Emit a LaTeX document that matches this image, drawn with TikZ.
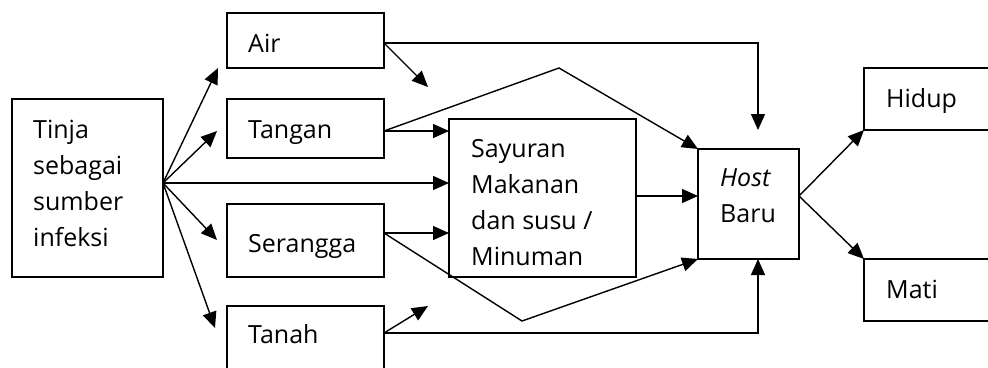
\documentclass[tikz,border=0pt]{standalone}
\usepackage{fontspec}
\setmainfont{Open Sans}
\usetikzlibrary{arrows.meta,calc}
\begin{document}
\begin{tikzpicture}[x=1pt,y=-1pt,
  box/.style={draw, line width=1.5pt, rectangle, inner sep=0pt, outer sep=0pt, anchor=north west},
  txt/.style={anchor=base west, inner sep=0pt, align=left, font=\fontsize{25}{36}\selectfont},
  conn/.style={line width=1.4pt},
  arr/.style={conn, -{Triangle[length=16pt,width=14pt]}},
]
\useasboundingbox (0,0) rectangle (988,367);
\begin{scope}
\clip (0,0) rectangle (988,367);
% boxes
\node[box, minimum width=151pt, minimum height=178pt] (tinja) at (12,99) {};
\node[box, minimum width=157pt, minimum height=55pt] (air) at (227,13) {};
\node[box, minimum width=157pt, minimum height=59pt] (tangan) at (227,99) {};
\node[box, minimum width=157pt, minimum height=73pt] (serangga) at (227,204) {};
\node[box, minimum width=157pt, minimum height=70pt] (tanah) at (227,306) {};
\node[box, minimum width=187pt, minimum height=158pt] (sayuran) at (449,119) {};
\node[box, minimum width=101pt, minimum height=110pt] (host) at (698,149) {};
\node[box, minimum width=140pt, minimum height=62pt] (hidup) at (864,68) {};
\node[box, minimum width=140pt, minimum height=62pt] (mati) at (864,259) {};
% texts (base anchor = baseline of the last line)
\node[txt] (tinjat) at (33,246) {Tinja\\sebagai\\sumber\\infeksi};
\node[txt] (airt) at (248,52) {Air};
\node[txt] (tangant) at (248,138) {Tangan};
\node[txt] (seranggat) at (248,252) {Serangga};
\node[txt] (tanaht) at (248,343) {Tanah};
\node[txt] (sayurant) at (471,265) {Sayuran\\Makanan\\dan susu /\\Minuman};
\node[txt] (hostt) at (720,222) {\textit{Host}\\Baru};
\node[txt] (hidupt) at (886,107) {Hidup};
\node[txt] (matit) at (886,298) {Mati};
% helper coordinates
\coordinate (O) at ([yshift=5pt]tinja.east);
\coordinate (a1) at (218,68);
\coordinate (a2) at (217,131);
\coordinate (a3) at (217,240);
\coordinate (a4) at (215,328);
\coordinate (a5) at (428,87);
\coordinate (a6) at (428,306);
\coordinate (a7) at (758,130);
\coordinate (k1) at (559,68);
\coordinate (k2) at (522,321);
\coordinate (airp) at ([yshift=-2.5pt]air.east);
\coordinate (tanp) at ([yshift=-2.5pt]tangan.east);
\coordinate (serp) at ([yshift=7.5pt]serangga.east);
\coordinate (tahp) at ([yshift=8pt]tanah.east);
\coordinate (hostin) at ([yshift=8pt]host.west);
\coordinate (hostout) at ([yshift=8pt]host.east);
% connectors
\draw[arr] (O) -- (a1);
\draw[arr] (O) -- (a2);
\draw[arr] (O) -- (O -| sayuran.west);
\draw[arr] (O) -- (a3);
\draw[arr] (O) -- (a4);
\draw[arr] (airp) -- (a7 |- airp) -- (a7);
\draw[arr] (airp) -- (a5);
\draw[arr] (tanp) -- (tanp -| sayuran.west);
\draw[arr] (tanp) -- (k1) -- (host.north west);
\draw[arr] (serp) -- (serp -| sayuran.west);
\draw[arr] (serp) -- (k2) -- (host.south west);
\draw[arr] (tahp) -- (a6);
\draw[arr] (tahp) -- (a7 |- tahp) -- (a7 |- host.south);
\draw[arr] (hostin -| sayuran.east) -- (hostin);
\draw[arr] (hostout) -- (hidup.south west);
\draw[arr] (hostout) -- (mati.north west);
\end{scope}
\end{tikzpicture}
\end{document}
